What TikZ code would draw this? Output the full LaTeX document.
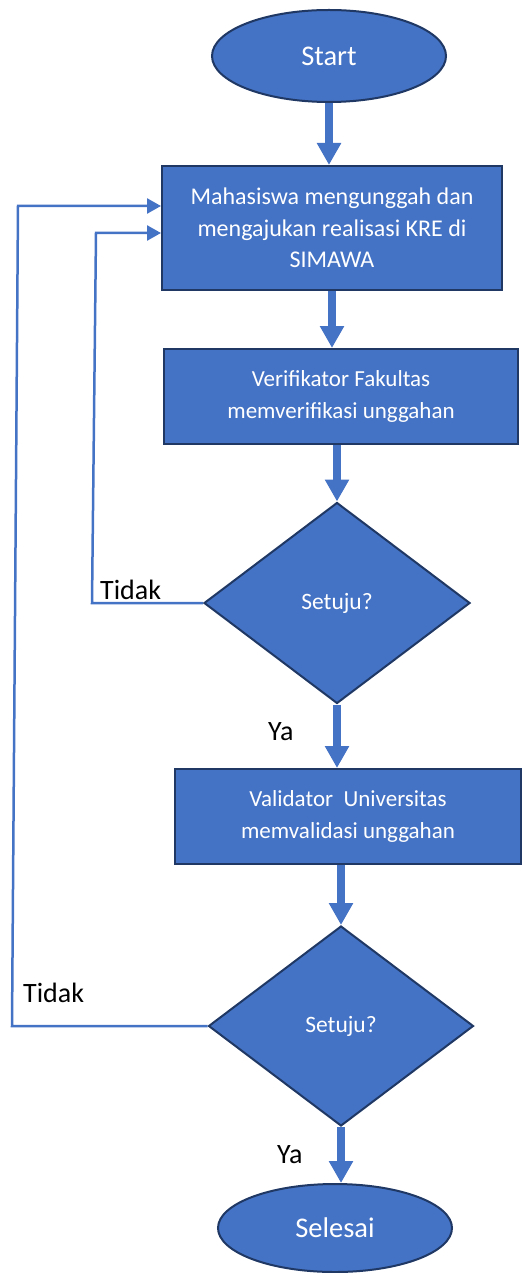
\documentclass[tikz,border=0pt]{standalone}
\usepackage{fontspec}
\setmainfont{Carlito}
\usetikzlibrary{shapes.geometric,arrows.meta}
\definecolor{fillblue}{HTML}{4472C4}
\definecolor{edge}{HTML}{1F3864}
\begin{document}
\begin{tikzpicture}[x=1pt,y=-1pt,
 proc/.style={rectangle, draw=edge, line width=2pt, fill=fillblue, text=white, inner sep=0pt, align=center, font=\fontsize{23}{32}\selectfont},
 term/.style={ellipse, draw=edge, line width=2pt, fill=fillblue, text=white, inner sep=0pt, font=\fontsize{28.5}{34}\selectfont},
 dec/.style={diamond, draw=edge, line width=2pt, fill=fillblue, text=white, inner sep=0pt, font=\fontsize{23.5}{28}\selectfont},
 flow/.style={draw=fillblue, line width=8pt, -{Triangle[length=22pt,width=23pt]}},
 fb/.style={draw=fillblue, line width=2.5pt, -{Triangle[length=14pt,width=15pt]}},
 lbl/.style={text=black, inner sep=0pt, font=\fontsize{28}{34}\selectfont}]
\useasboundingbox (0,0) rectangle (522,1273);
\node[term, minimum width=234pt, minimum height=92pt] (start) at (329,56) {Start};
\node[proc, minimum width=340pt, minimum height=124pt, font=\fontsize{24}{31.5}\selectfont] (box1) at (332,228) {Mahasiswa mengunggah dan\\mengajukan realisasi KRE di\\SIMAWA};
\node[proc, minimum width=354pt, minimum height=95pt] (box2) at (341,396.5) {Verifikator Fakultas\\memverifikasi unggahan};
\node[dec, minimum width=266pt, minimum height=201pt] (d1) at (337,603) {Setuju?};
\node[proc, minimum width=346pt, minimum height=95pt] (box3) at (348,816.5) {Validator\ \ Universitas\\memvalidasi unggahan};
\node[dec, minimum width=265pt, minimum height=200pt] (d2) at (341,1026) {Setuju?};
\node[term, minimum width=234pt, minimum height=88pt] (end) at (335,1228) {Selesai};

\draw[flow] (start.south) -- (start.south |- box1.north);
\draw[flow] (box1.south) -- (box1.south |- box2.north);
\draw[flow] (box2.south -| d1.north) -- (d1.north);
\draw[flow] (d1.south) -- (d1.south |- box3.north);
\draw[flow] (box3.south -| d2.north) -- (d2.north);
\draw[flow] (d2.south) -- (d2.south |- end.north);

\draw[fb] (d1.west) -- (92,603) -- (96,233) -- ([yshift=-5pt]box1.west);
\draw[fb] (d2.west) -- (12,1026) -- (18,206) -- ([yshift=22pt]box1.west);

\node[lbl, anchor=base west] (t1) at (100,599) {Tidak};
\node[lbl, anchor=base west] (t2) at (23,1002) {Tidak};
\node[lbl, anchor=base west] (y1) at (268,740) {Ya};
\node[lbl, anchor=base west] (y2) at (277,1163) {Ya};
\end{tikzpicture}
\end{document}
